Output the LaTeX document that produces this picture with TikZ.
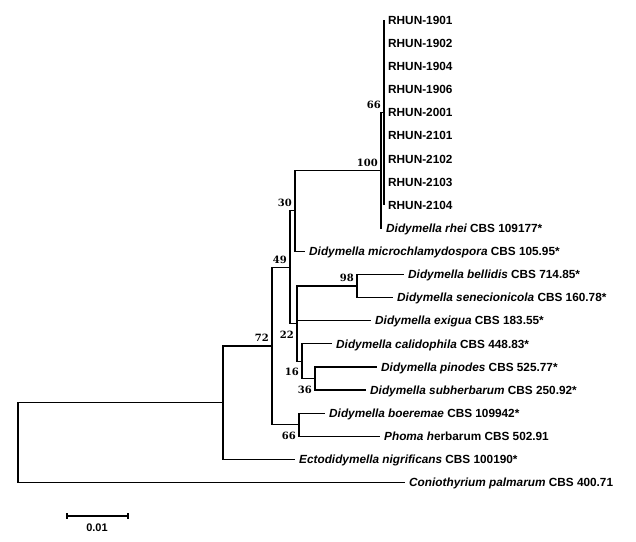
\documentclass[tikz,border=0pt]{standalone}
\usepackage{fontspec}
\setmainfont{Liberation Sans}
\newfontfamily\bootfont{DejaVu Serif}
\usepackage{tikz}

\tikzset{
	leaf/.style={anchor=west, inner xsep=4pt, inner ysep=0pt, text height=8.4pt, text depth=0pt, font=\fontsize{11.8}{12}\selectfont\bfseries},
	branch/.style={line width=1.2pt},
	rhun/.style={line width=2pt},
	bsup/.style={anchor=south east, inner sep=0pt, text height=7.3pt, text depth=0pt, font={\bootfont\bfseries\fontsize{10}{12}\selectfont}, xshift=-3pt, yshift=4pt},
	bsdown/.style={anchor=north east, inner sep=0pt, text height=7.3pt, text depth=0pt, font={\bootfont\bfseries\fontsize{10}{12}\selectfont}, xshift=-3pt, yshift=-7.3pt}
}

\begin{document}
\begin{tikzpicture}[x=1pt, y=-1pt]
	\useasboundingbox (0,0) rectangle (636,541);
	
	% internal nodes
	\coordinate (root) at (18, 442.6);
	\coordinate (nA) at (223, 402.7);
	\coordinate (n72) at (272, 346);
	\coordinate (n49) at (290, 267.2);
	\coordinate (n30) at (295, 210.8);
	\coordinate (n100) at (381, 170.3);
	\coordinate (n66a) at (384, 112.5);
	\coordinate (n22) at (297, 323.5);
	\coordinate (n98) at (357, 286);
	\coordinate (n16) at (302, 361.1);
	\coordinate (n36) at (315, 378.4);
	\coordinate (n66b) at (299, 424.7);
	
	% taxa
	\node[leaf] (r1901) at (384, 20)     {RHUN-1901};
	\node[leaf] (r1902) at (384, 43.1)   {RHUN-1902};
	\node[leaf] (r1904) at (384, 66.3)   {RHUN-1904};
	\node[leaf] (r1906) at (384, 89.4)   {RHUN-1906};
	\node[leaf] (r2001) at (384, 112.5)  {RHUN-2001};
	\node[leaf] (r2101) at (384, 135.6)  {RHUN-2101};
	\node[leaf] (r2102) at (384, 158.8)  {RHUN-2102};
	\node[leaf] (r2103) at (384, 181.9)  {RHUN-2103};
	\node[leaf] (r2104) at (384, 205)    {RHUN-2104};
	\node[leaf] (rhei) at (382, 228.1)   {\itshape Didymella rhei \upshape CBS 109177*};
	\node[leaf] (micro) at (305, 251.3)  {\itshape Didymella microchlamydospora \upshape CBS 105.95*};
	\node[leaf] (bell) at (404, 274.4)   {\itshape Didymella bellidis \upshape CBS 714.85*};
	\node[leaf] (sene) at (393, 297.5)   {\itshape Didymella senecionicola \upshape CBS 160.78*};
	\node[leaf] (exig) at (371, 320.6)   {\itshape Didymella exigua \upshape CBS 183.55*};
	\node[leaf] (cali) at (332, 343.8)   {\itshape Didymella calidophila \upshape CBS 448.83*};
	\node[leaf] (pino) at (377, 366.9)   {\itshape Didymella pinodes \upshape CBS 525.77*};
	\node[leaf] (subh) at (366, 390)     {\itshape Didymella subherbarum \upshape CBS 250.92*};
	\node[leaf] (boer) at (325, 413.1)   {\itshape Didymella boeremae \upshape CBS 109942*};
	\node[leaf] (herb) at (380, 436.3)   {\itshape Phoma h\upshape erbarum CBS 502.91};
	\node[leaf] (ecto) at (295, 459.4)   {\itshape Ectodidymella nigrificans \upshape CBS 100190*};
	\node[leaf] (conio) at (405, 482.5)  {\itshape Coniothyrium palmarum \upshape CBS 400.71};
	
	% branches
	\draw[branch] (root) |- (nA);
	\draw[branch] (root) |- (conio.west);
	\draw[branch] (nA) |- (n72);
	\draw[branch] (nA) |- (ecto.west);
	\draw[branch] (n72) |- (n49);
	\draw[branch] (n72) |- (n66b);
	\draw[branch] (n49) |- (n30);
	\draw[branch] (n49) |- (n22);
	\draw[branch] (n30) |- (n100);
	\draw[branch] (n30) |- (micro.west);
	\draw[branch] (n100) |- (n66a);
	\draw[branch] (n100) |- (rhei.west);
	\foreach \t in {r1901,r1902,r1904,r1906,r2001,r2101,r2102,r2103,r2104}
		\draw[rhun] (n66a) |- (\t.west);
	\draw[branch] (n22) |- (n98);
	\draw[branch] (n22) |- (exig.west);
	\draw[branch] (n22) |- (n16);
	\draw[branch] (n98) |- (bell.west);
	\draw[branch] (n98) |- (sene.west);
	\draw[branch] (n16) |- (cali.west);
	\draw[branch] (n16) |- (n36);
	\draw[branch] (n36) |- (pino.west);
	\draw[branch] (n36) |- (subh.west);
	\draw[branch] (n66b) |- (boer.west);
	\draw[branch] (n66b) |- (herb.west);
	
	% bootstrap values
	\node[bsup] (b66a) at (n66a) {66};
	\node[bsup] (b100) at (n100) {100};
	\node[bsup] (b30) at (n30) {30};
	\node[bsup] (b49) at (n49) {49};
	\node[bsup] (b98) at (n98) {98};
	\node[bsup] (b72) at (n72) {72};
	\node[bsdown] (b22) at (n22) {22};
	\node[bsdown] (b16) at (n16) {16};
	\node[bsdown] (b36) at (n36) {36};
	\node[bsdown] (b66b) at (n66b) {66};
	
	% scale bar
	\coordinate (sb1) at (67, 516);
	\coordinate (sb2) at (128, 516);
	\draw[branch] (sb1) -- (sb2);
	\draw[branch] ([yshift=3pt]sb1) -- ([yshift=-3pt]sb1);
	\draw[branch] ([yshift=3pt]sb2) -- ([yshift=-3pt]sb2);
	\node[font=\fontsize{11}{12}\selectfont\bfseries] (sblabel) at (97, 527.5) {0.01};
\end{tikzpicture}
\end{document}
